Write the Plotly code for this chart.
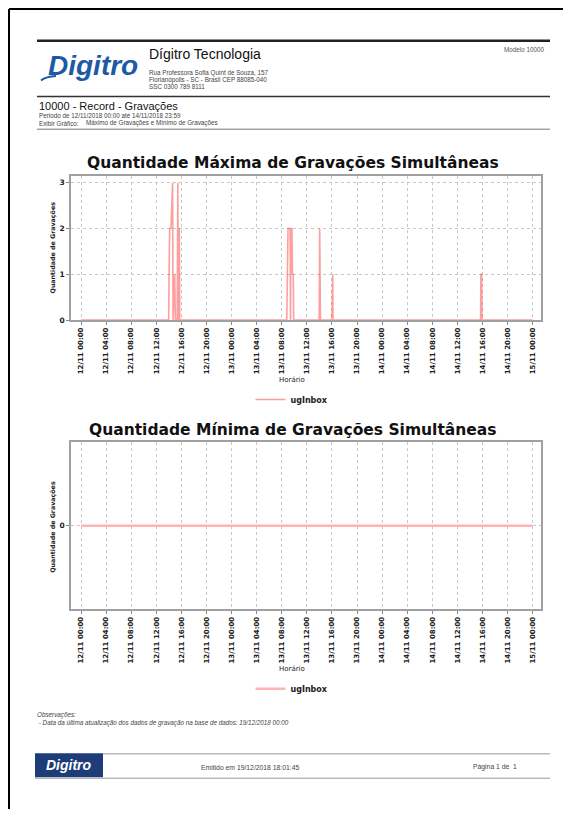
import plotly.graph_objects as go

W, H = 563, 814

# ugInbox: maximum simultaneous recordings over the period
max_times = [
    "2018-11-12 00:00", "2018-11-12 13:58", "2018-11-12 14:02", "2018-11-12 14:08", "2018-11-12 14:20",
    "2018-11-12 14:30", "2018-11-12 14:36", "2018-11-12 14:40", "2018-11-12 14:50", "2018-11-12 14:56",
    "2018-11-12 15:02", "2018-11-12 15:20", "2018-11-12 15:26", "2018-11-12 15:30", "2018-11-12 15:34",
    "2018-11-12 15:40", "2018-11-12 15:44",
    "2018-11-13 08:48", "2018-11-13 08:54", "2018-11-13 09:00", "2018-11-13 09:20", "2018-11-13 09:24",
    "2018-11-13 09:28", "2018-11-13 09:38", "2018-11-13 09:42", "2018-11-13 09:50", "2018-11-13 09:54",
    "2018-11-13 13:58", "2018-11-13 14:03", "2018-11-13 14:07", "2018-11-13 14:10",
    "2018-11-13 16:00", "2018-11-13 16:03", "2018-11-13 16:08", "2018-11-13 16:10",
    "2018-11-14 15:42", "2018-11-14 15:45", "2018-11-14 15:52", "2018-11-14 15:55",
    "2018-11-15 00:00",
]
max_values = [
    0, 0, 1, 2, 2, 3, 3, 0, 1, 1, 0, 0, 3, 0, 2, 2, 0,
    0, 1, 2, 2, 0, 2, 2, 1, 1, 0,
    0, 2, 1, 0,
    0, 1, 1, 0,
    0, 1, 1, 0,
    0,
]

# ugInbox: minimum simultaneous recordings over the period
min_times = ["2018-11-12 00:00", "2018-11-15 00:00"]
min_values = [0, 0]

series_name = "ugInbox"
x_range = ["2018-11-11 22:24", "2018-11-15 01:20"]


def px(x):
    return x / W


def py(y):
    return 1 - y / H


CHART_FONT = "DejaVu Sans"
PAGE_FONT = "Liberation Sans"

fig = go.Figure()
fig.add_trace(go.Scatter(
    x=max_times, y=max_values, mode="lines", name=series_name,
    line=dict(color="rgba(255,40,40,0.45)", width=1.6),
    xaxis="x", yaxis="y", legend="legend",
))
fig.add_trace(go.Scatter(
    x=min_times, y=min_values, mode="lines", name=series_name,
    line=dict(color="#ffb4b4", width=2.5),
    xaxis="x2", yaxis="y2", legend="legend2",
))

tickfont = dict(family=CHART_FONT, size=7, color="#222", weight="bold")
xaxis_common = dict(
    type="date", range=x_range, tick0="2018-11-12 00:00", dtick=4 * 3600 * 1000,
    tickformat="%d/%m %H:%M", tickangle=-90, tickfont=tickfont,
    showgrid=True, gridcolor="#c8c8c8", griddash="dot", gridwidth=1,
    showline=True, linecolor="#a0a0a0", linewidth=1.5, mirror=True,
    ticks="outside", ticklen=3, tickcolor="#888", zeroline=False,
)
yaxis_common = dict(
    tickfont=dict(family=CHART_FONT, size=7.5, color="#222", weight="bold"),
    showgrid=True, gridcolor="#c8c8c8", griddash="dot", gridwidth=1,
    showline=True, linecolor="#a0a0a0", linewidth=1.5, mirror=True,
    ticks="outside", ticklen=3, tickcolor="#888", zeroline=False,
)

fig.update_layout(
    width=W, height=H, margin=dict(l=0, r=0, t=0, b=0),
    paper_bgcolor="white", plot_bgcolor="white", showlegend=True,
    xaxis=dict(domain=[px(71), px(541)], anchor="y", **xaxis_common),
    yaxis=dict(domain=[py(322), py(177)], anchor="x", range=[0, 3.15],
               tickvals=[0, 1, 2, 3], **yaxis_common),
    xaxis2=dict(domain=[px(71), px(541)], anchor="y2", **xaxis_common),
    yaxis2=dict(domain=[py(613), py(445)], anchor="x2", range=[-1, 1],
                tickvals=[0], **yaxis_common),
    legend=dict(x=px(292), y=py(402), xanchor="center", yanchor="middle",
                orientation="h", itemwidth=30,
                font=dict(family=CHART_FONT, size=8, color="#222", weight="bold")),
    legend2=dict(x=px(292), y=py(693), xanchor="center", yanchor="middle",
                 orientation="h", itemwidth=30,
                 font=dict(family=CHART_FONT, size=8, color="#222", weight="bold")),
)

shapes = []


def hline(x0, x1, y, color, width):
    shapes.append(dict(type="line", xref="paper", yref="paper",
                       x0=px(x0), x1=px(x1), y0=py(y), y1=py(y),
                       line=dict(color=color, width=width)))


def vline(x, y0, y1, color, width):
    shapes.append(dict(type="line", xref="paper", yref="paper",
                       x0=px(x), x1=px(x), y0=py(y0), y1=py(y1),
                       line=dict(color=color, width=width)))


# page frame
hline(9, 563, 9, "#000", 2)
vline(9, 9, 814, "#000", 2)
# header rules
hline(37, 550, 41, "#222", 2.5)
hline(37, 550, 97, "#333", 1.5)
hline(37, 550, 130, "#777", 1)
# footer rules and logo box
shapes.append(dict(type="rect", xref="paper", yref="paper",
                   x0=px(35), x1=px(103), y0=py(782), y1=py(758),
                   fillcolor="#1d3c78", line=dict(width=0)))
hline(103, 550, 758.5, "#999", 1)
hline(35, 550, 783, "#999", 1)
# logo tail sweeping off the "D"
shapes.append(dict(type="path", xref="paper", yref="paper",
                   path=f"M {px(41)},{py(81)} Q {px(46)},{py(77)} {px(56)},{py(76.5)}",
                   line=dict(color="#1c5aa6", width=2)))
fig.update_layout(shapes=shapes)

annotations = []


def text(x, y, s, size, color="#222", family=PAGE_FONT, anchor="left",
         weight="normal", style="normal", angle=0):
    annotations.append(dict(
        x=px(x), y=py(y), xref="paper", yref="paper", text=s, showarrow=False,
        xanchor=anchor, yanchor="middle", textangle=angle,
        font=dict(family=family, size=size, color=color, weight=weight, style=style),
    ))


# header
text(46, 66, "Digitro", 28, "#1c5aa6", weight="bold", style="italic")
text(147, 54, "Dígitro Tecnologia", 14, "#111")
text(147, 73, "Rua Professora Sofia Quint de Souza, 157", 6.3, "#444")
text(147, 80, "Florianópolis - SC - Brasil CEP 88085-040", 6.3, "#444")
text(147, 87, "SSC 0300 789 8111", 6.3, "#444")
text(546, 50, "Modelo 10000", 6.3, "#555", anchor="right")
text(37, 107, "10000 - Record - Gravações", 11, "#111")
text(37, 116, "Periodo de 12/11/2018 00:00 até 14/11/2018 23:59", 6.3, "#444")
text(37, 124, "Exibir Gráfico:", 6.3, "#444")
text(84, 124, "Máximo de Gravações e Mínimo de Gravações", 6.3, "#444")

# chart titles and axis titles
text(292.5, 164, "Quantidade Máxima de Gravações Simultâneas", 15.5, "#111",
     family=CHART_FONT, anchor="center", weight="bold")
text(292.5, 433, "Quantidade Mínima de Gravações Simultâneas", 15.5, "#111",
     family=CHART_FONT, anchor="center", weight="bold")
text(53, 249, "Quantidade de Gravações", 6.3, "#222", family=CHART_FONT,
     anchor="center", weight="bold", angle=-90)
text(53, 530, "Quantidade de Gravações", 6.3, "#222", family=CHART_FONT,
     anchor="center", weight="bold", angle=-90)
text(292, 382, "Horário", 7, "#222", family=CHART_FONT, anchor="center")
text(292, 673, "Horário", 7, "#222", family=CHART_FONT, anchor="center")

# footer
text(35, 719, "Observações:", 6.3, "#444", style="italic")
text(35, 727, " - Data da última atualização dos dados de gravação na base de dados: 19/12/2018 00:00",
     6.3, "#444", style="italic")
text(69, 770, "Digitro", 14, "white", weight="bold", style="italic", anchor="center")
text(250, 772, "Emitido em 19/12/2018 18:01:45", 6.8, "#444", anchor="center")
text(471, 772, "Página 1 de  1", 6.8, "#444")

fig.update_layout(annotations=annotations)

fig.write_html("out.html")
